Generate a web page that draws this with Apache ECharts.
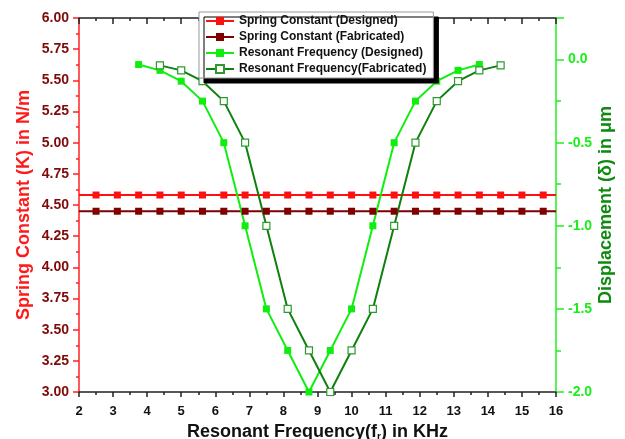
<!DOCTYPE html>
<html lang="en">
<head>
  <meta charset="UTF-8">
  <title>Spring Constant and Displacement vs Resonant Frequency</title>
  <script src="https://cdn.jsdelivr.net/npm/echarts@6/dist/echarts.min.js"></script>
  <style>
    body { margin: 0; padding: 0; background: #fff; }
    #chart { width: 625px; height: 439px; }
  </style>
</head>
<body>
  <div id="chart"></div>
  <script>
    // spring constant (left axis, N/m) - flat lines, markers every 0.625 kHz
    const springX = [2.5, 3.125, 3.75, 4.375, 5, 5.625, 6.25, 6.875, 7.5, 8.125, 8.75,
      9.375, 10, 10.625, 11.25, 11.875, 12.5, 13.125, 13.75, 14.375, 15, 15.625];
    const springDesigned = [4.58, 4.58, 4.58, 4.58, 4.58, 4.58, 4.58, 4.58, 4.58, 4.58, 4.58,
      4.58, 4.58, 4.58, 4.58, 4.58, 4.58, 4.58, 4.58, 4.58, 4.58, 4.58];
    const springFabricated = [4.45, 4.45, 4.45, 4.45, 4.45, 4.45, 4.45, 4.45, 4.45, 4.45, 4.45,
      4.45, 4.45, 4.45, 4.45, 4.45, 4.45, 4.45, 4.45, 4.45, 4.45, 4.45];

    // displacement (right axis, um)
    const freqDesigned = [3.75, 4.375, 5, 5.625, 6.25, 6.875, 7.5, 8.125, 8.75,
      9.375, 10, 10.625, 11.25, 11.875, 12.5, 13.125, 13.75];
    const dispDesigned = [-0.03, -0.065, -0.13, -0.25, -0.5, -1.0, -1.5, -1.75, -2.0,
      -1.75, -1.5, -1.0, -0.5, -0.25, -0.13, -0.065, -0.03];
    const freqFabricated = [4.375, 5, 5.625, 6.25, 6.875, 7.5, 8.125, 8.75, 9.375,
      10, 10.625, 11.25, 11.875, 12.5, 13.125, 13.75, 14.375];
    const dispFabricated = [-0.035, -0.065, -0.13, -0.25, -0.5, -1.0, -1.5, -1.75, -2.0,
      -1.75, -1.5, -1.0, -0.5, -0.25, -0.13, -0.065, -0.035];

    const FONT = 'Liberation Sans, Arial, sans-serif';

    const pair = (xs, ys) => xs.map((x, i) => [x, ys[i]]);
    // the flat lines run from axis to axis, with no marker at the ends
    const withEnds = (xs, ys) => [{ value: [2, ys[0]], symbol: 'none' }]
      .concat(pair(xs, ys))
      .concat([{ value: [16, ys[ys.length - 1]], symbol: 'none' }]);

    const chart = echarts.init(document.getElementById('chart'));

    const option = {
      animation: false,
      grid: { left: 79, right: 69, top: 18, bottom: 47, outerBoundsMode: 'none' },
      legend: {
        orient: 'vertical',
        left: 199,
        top: 12,
        padding: [3, 7, 3, 6],
        itemWidth: 28,
        itemHeight: 10,
        itemGap: 4,
        backgroundColor: '#fff',
        borderColor: '#999',
        borderWidth: 1,
        shadowColor: '#000',
        shadowBlur: 0,
        shadowOffsetX: 5,
        shadowOffsetY: 5,
        textStyle: { fontFamily: FONT, fontWeight: 'bold', fontSize: 12, color: '#111' }
      },
      xAxis: [
        {
          type: 'value', position: 'bottom',
          min: 2, max: 16, interval: 1,
          name: 'Resonant Frequency(f{s|r}) in KHz',
          nameLocation: 'middle', nameGap: 29,
          nameTextStyle: {
            fontFamily: FONT, fontWeight: 'bold', fontSize: 18, color: '#111',
            rich: { s: { fontFamily: FONT, fontWeight: 'bold', fontSize: 10, color: '#111', padding: [10, 0, 0, 0] } }
          },
          axisLine: { onZero: false, lineStyle: { color: '#222', width: 1.5 } },
          axisTick: { length: 5, lineStyle: { color: '#222', width: 1.5 } },
          minorTick: { show: true, splitNumber: 2, length: 3, lineStyle: { color: '#222', width: 1.5 } },
          axisLabel: { fontFamily: FONT, fontWeight: 'bold', fontSize: 13, color: '#111', margin: 13 },
          splitLine: { show: false }
        },
        {
          type: 'value', position: 'top',
          min: 2, max: 16, interval: 1,
          axisLine: { onZero: false, lineStyle: { color: '#222', width: 1.5 } },
          axisTick: { inside: true, length: 6, lineStyle: { color: '#222', width: 1.5 } },
          minorTick: { show: true, splitNumber: 2, length: 3, lineStyle: { color: '#222', width: 1.5 } },
          axisLabel: { show: false },
          splitLine: { show: false }
        }
      ],
      yAxis: [
        {
          type: 'value', position: 'left',
          min: 3, max: 6, interval: 0.25,
          name: 'Spring Constant (K) in N/m',
          nameLocation: 'middle', nameGap: 46, nameMoveOverlap: false,
          nameTextStyle: { fontFamily: FONT, fontWeight: 'bold', fontSize: 18, color: '#ff1a1a' },
          axisLine: { onZero: false, lineStyle: { color: '#ff2020', width: 1.5 } },
          axisTick: { length: 6, lineStyle: { color: '#ff2020', width: 1.5 } },
          minorTick: { show: true, splitNumber: 2, length: 3, lineStyle: { color: '#ff2020', width: 1.5 } },
          axisLabel: {
            fontFamily: FONT, fontWeight: 'bold', fontSize: 14, color: '#7f0a0a', margin: 10,
            formatter: v => v.toFixed(2)
          },
          splitLine: { show: false }
        },
        {
          type: 'value', position: 'right',
          min: -2, max: 0.25, interval: 0.5,
          name: 'Displacement (\u03B4) in \u03BCm',
          nameLocation: 'middle', nameGap: 41, nameMoveOverlap: false,
          nameTextStyle: { fontFamily: FONT, fontWeight: 'bold', fontSize: 18, color: '#0e8a0e' },
          axisLine: { onZero: false, lineStyle: { color: '#22ee22', width: 1.5 } },
          axisTick: { length: 8, lineStyle: { color: '#22ee22', width: 1.5 } },
          minorTick: { show: true, splitNumber: 2, length: 5, lineStyle: { color: '#22ee22', width: 1.5 } },
          axisLabel: {
            fontFamily: FONT, fontWeight: 'bold', fontSize: 14, color: '#1aee1a', margin: 12,
            showMaxLabel: false,
            formatter: v => v.toFixed(1)
          },
          splitLine: { show: false }
        }
      ],
      series: [
        {
          name: 'Spring Constant (Designed)',
          type: 'line', xAxisIndex: 0, yAxisIndex: 0,
          data: withEnds(springX, springDesigned),
          symbol: 'rect', symbolSize: 7,
          itemStyle: { color: '#ff1010' },
          lineStyle: { color: '#ff1010', width: 2 }
        },
        {
          name: 'Spring Constant (Fabricated)',
          type: 'line', xAxisIndex: 0, yAxisIndex: 0,
          data: withEnds(springX, springFabricated),
          symbol: 'rect', symbolSize: 7,
          itemStyle: { color: '#7f0000' },
          lineStyle: { color: '#7f0000', width: 2 }
        },
        {
          name: 'Resonant Frequency (Designed)',
          type: 'line', xAxisIndex: 0, yAxisIndex: 1,
          data: pair(freqDesigned, dispDesigned),
          symbol: 'rect', symbolSize: 7,
          itemStyle: { color: '#10ee10' },
          lineStyle: { color: '#10ee10', width: 2 }
        },
        {
          name: 'Resonant Frequency(Fabricated)',
          type: 'line', xAxisIndex: 0, yAxisIndex: 1,
          data: pair(freqFabricated, dispFabricated),
          symbol: 'rect', symbolSize: 7,
          itemStyle: { color: '#fff', borderColor: '#2e9a2e', borderWidth: 1.2 },
          lineStyle: { color: '#0e800e', width: 2 }
        }
      ]
    };

    chart.setOption(option);
  </script>
</body>
</html>
